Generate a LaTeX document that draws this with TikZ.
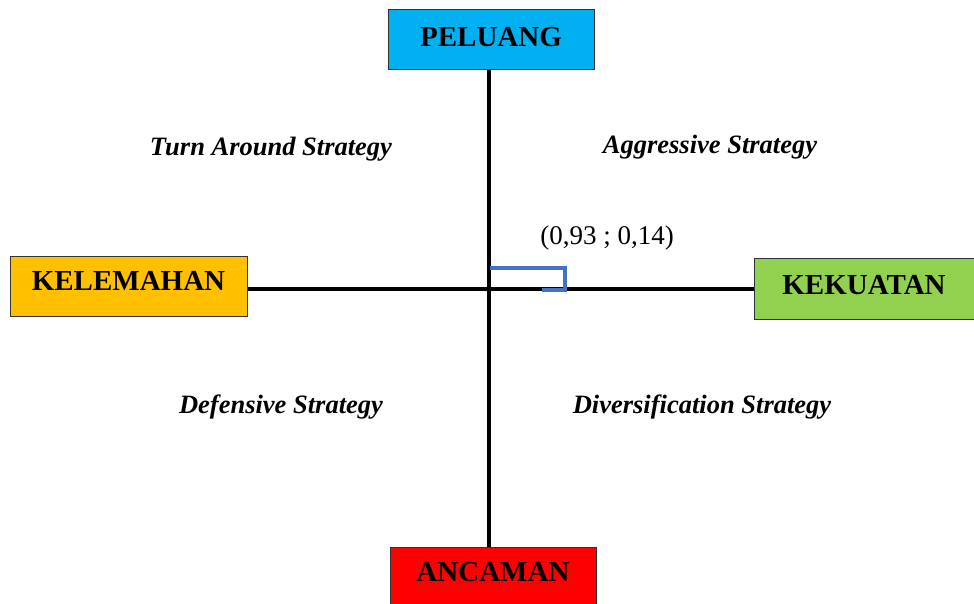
\documentclass[tikz,border=0pt]{standalone}
\usepackage{fontspec}
\setmainfont{Liberation Serif}
\definecolor{peluang}{HTML}{00B0F0}
\definecolor{lemah}{HTML}{FFC000}
\definecolor{kuat}{HTML}{92D050}
\definecolor{ancam}{HTML}{FF0000}
\definecolor{marker}{HTML}{4472C4}
\tikzset{
  quad/.style={draw=black!80, line width=1pt, inner sep=0pt},
  qtext/.style={font=\fontsize{29}{32}\selectfont\bfseries},
  axis/.style={line width=4.5pt, black},
  strat/.style={font=\fontsize{26.5}{30}\selectfont\bfseries\itshape},
  coord/.style={font=\fontsize{27}{30}\selectfont},
}
\begin{document}
\begin{tikzpicture}[x=1pt,y=-1pt]
\useasboundingbox (0,0) rectangle (974,604);
% quadrant boxes
\node[quad, fill=peluang, minimum width=206pt, minimum height=60pt] (up) at (491,40) {};
\node[quad, fill=lemah, minimum width=237pt, minimum height=60pt] (left) at (128.5,286) {};
\node[quad, fill=kuat, minimum width=220pt, minimum height=61pt] (right) at (864,288.5) {};
\node[quad, fill=ancam, minimum width=206pt, minimum height=60pt, anchor=north] (down) at (493,547) {};
% box titles
\node[qtext] (tup) at ([yshift=3pt]up.center) {PELUANG};
\node[qtext] (tleft) at ([yshift=5pt]left.center) {KELEMAHAN};
\node[qtext] (tright) at ([yshift=3pt]right.center) {KEKUATAN};
\node[qtext] (tdown) at ([yshift=5pt]down.center) {ANCAMAN};
% axes
\coordinate (c) at (489,289);
\draw[axis] (up.south -| c) -- (down.north -| c);
\draw[axis] (left.east |- c) -- (right.west |- c);
% strategies
\node[strat] (s1) at (271,149) {Turn Around Strategy};
\node[strat] (s2) at (710,147) {Aggressive Strategy};
\node[strat] (s3) at (281,407) {Defensive Strategy};
\node[strat] (s4) at (702,407) {Diversification Strategy};
% position point
\node[coord] (pt) at (607,238) {(0,93 ; 0,14)};
\coordinate (m1) at (490,268);
\coordinate (m2) at (565,268);
\coordinate (m3) at (565,290);
\coordinate (m4) at (542,290);
\draw[marker, line width=4pt] (m1) -- (m2) -- (m3) -- (m4);
\end{tikzpicture}
\end{document}
